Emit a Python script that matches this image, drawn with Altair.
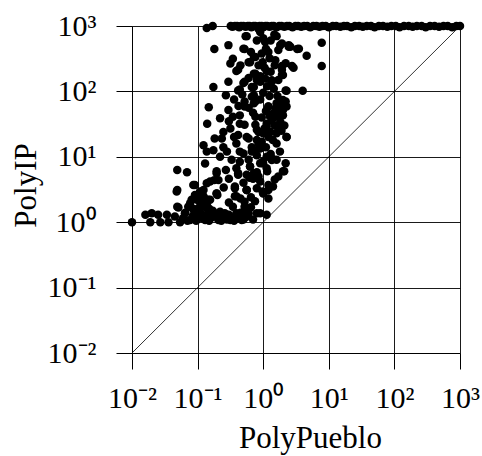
import altair as alt
import pandas as pd

# Points sitting on the PolyIP = 1000 ceiling
top_pueblo = [0.138, 0.17, 0.32, 0.34, 0.37, 0.40, 0.43, 0.46, 0.50, 0.54, 0.58, 0.62,
              0.66, 0.71, 0.76, 0.82, 0.88, 0.95, 1.0, 1.08, 1.15, 1.25, 1.35, 1.45,
              1.6, 1.75, 1.9, 2.1, 2.3, 2.5, 2.8, 3.1, 3.4, 3.8, 4.2, 4.7, 5.2, 5.8,
              6.5, 7.2, 8.0, 9.0, 10, 11.5, 13, 15, 17, 19, 22, 25, 29, 33, 38, 44,
              50, 58, 67, 78, 90, 105, 120, 140, 165, 190, 220, 260, 300, 350, 410,
              480, 560, 650, 760, 880, 1000]
top_ip = [930, 1000, 1000, 970, 1000, 1000, 960, 1000, 1000, 970, 1000, 1000,
          960, 1000, 1000, 970, 1000, 1000, 960, 1000, 1000, 970, 1000, 1000,
          960, 1000, 1000, 970, 1000, 1000, 960, 1000, 1000, 970, 1000, 1000, 960,
          1000, 1000, 970, 1000, 1000, 960, 1000, 1000, 970, 1000, 1000, 960, 1000,
          1000, 970, 1000, 1000, 960, 1000, 1000, 970, 1000, 1000, 960, 1000, 1000,
          970, 1000, 1000, 960, 1000, 1000, 970, 1000, 1000, 960, 1000, 1000]

# Band of points near PolyIP = 1
low_pueblo = [0.01, 0.016, 0.02, 0.019, 0.025, 0.027, 0.034, 0.036, 0.045, 0.051, 0.048,
              0.054, 0.064, 0.072, 0.081, 0.091, 0.086, 0.077, 0.103, 0.116, 0.123,
              0.138, 0.146, 0.13, 0.18, 0.18, 0.195, 0.208, 0.26, 0.316, 0.37, 0.37,
              0.39, 0.47, 0.56, 0.52, 0.6, 0.9, 1.0, 1.2,
              0.06, 0.07, 0.085, 0.095, 0.11, 0.12, 0.14, 0.15, 0.16, 0.17, 0.2,
              0.22, 0.23, 0.25, 0.28, 0.3, 0.34, 0.36, 0.42, 0.45, 0.5, 0.55, 0.7,
              0.1, 0.13, 0.15, 0.09, 0.11, 0.125, 0.14]
low_ip = [1.0, 1.3, 1.37, 1.0, 1.3, 1.0, 1.3, 1.0, 1.22, 1.68, 2.95,
          1.0, 1.37, 1.72, 2.2, 2.6, 3.7, 1.08, 1.22, 1.72, 3.1,
          3.95, 2.2, 1.08, 4.4, 1.37, 2.75, 1.08, 1.37, 1.08, 2.5, 3.5,
          1.37, 1.08, 3.1, 1.72, 1.37, 1.37, 2.75, 3.1,
          1.15, 1.05, 1.25, 1.05, 1.4, 1.15, 1.3, 1.05, 1.5, 1.2, 1.25,
          1.45, 1.05, 1.2, 1.1, 1.3, 1.15, 1.05, 1.2, 1.4, 1.1, 1.2, 1.1,
          1.6, 1.9, 1.6, 1.45, 2.0, 2.4, 1.75]

# Scattered cloud between the two bands
mid_pueblo = [0.54, 0.90, 1.48, 0.295, 0.18, 0.52, 1.07, 1.82, 2.45, 3.3, 4.6, 7.8, 7.8,
              0.345, 0.60, 0.76, 0.39, 0.316, 0.72, 1.93, 2.75, 2.0, 1.07, 1.35, 0.52,
              0.295, 0.174, 0.72, 0.44, 0.27, 2.27, 4.0, 0.67, 0.72, 0.148, 0.14, 0.295,
              0.22, 0.52, 1.20, 1.6, 2.27, 2.0, 1.41, 2.0, 1.82, 0.345, 0.44, 0.76,
              0.316, 0.247, 1.13, 1.28, 1.70, 0.182, 0.234, 0.56, 0.39, 0.80, 1.0,
              2.27, 1.6, 0.123, 0.138, 0.174, 0.247, 0.67, 0.90, 0.50, 0.80, 1.13,
              0.13, 0.22, 0.44, 1.0, 1.35, 0.39, 0.63, 0.195, 0.27, 0.049, 0.069,
              2.09, 0.56, 0.80, 0.415, 0.155, 0.208, 0.90, 1.41, 0.091, 0.049, 0.37,
              0.56, 1.0, 0.109, 0.39, 0.52, 0.098, 0.077, 0.049, 0.109, 0.155, 0.195,
              0.345, 0.52, 0.80, 1.13, 0.195, 0.72, 1.13,
              0.56, 1.6, 2.45, 0.5, 1.2, 0.72, 0.63, 0.98, 1.53, 2.2, 2.9, 1.93, 1.13,
              0.76, 0.415, 1.35, 0.9, 0.5, 0.67, 0.415, 2.2, 0.72, 0.52, 0.76, 1.2,
              1.7, 2.2, 2.0, 0.6, 0.44, 0.76, 1.53, 1.13, 0.52, 0.8, 1.6, 2.27, 0.415,
              0.6, 0.85, 0.44, 0.67, 1.35, 0.98, 2.0, 0.63, 0.415, 0.85, 1.2, 0.56,
              0.98, 3.5, 2.6, 1.93, 1.93]
mid_ip = [700, 810, 740, 510, 445, 445, 570, 510, 480, 445, 350, 555, 245,
          316, 280, 335, 205, 268, 186, 245, 245, 178, 158, 141, 141,
          141, 117, 117, 107, 87, 102, 102, 83, 66, 57, 32, 52,
          39, 59, 59, 66, 59, 74, 46, 43, 34.5, 41, 32, 31,
          27, 24, 32, 24, 27, 19, 19, 20, 16, 18, 23,
          20, 16, 15, 12, 12.6, 14, 14, 13.4, 11.2, 10.6, 10,
          7.9, 10, 8.4, 7.9, 8.9, 6.7, 7.1, 6.0, 6.3, 6.3, 5.8,
          6.0, 5.3, 5.8, 5.3, 4.2, 4.4, 4.2, 3.5, 3.7, 3.1, 3.3,
          3.1, 2.8, 2.95, 2.5, 2.05, 2.2, 1.95, 1.72, 1.72, 2.2, 2.75,
          1.72, 1.45, 1.37, 1.3, 5.6, 5.6, 6.7,
          700, 700, 510, 450, 400, 335, 280, 280, 300, 270, 230, 215, 205,
          186, 215, 148, 141, 134, 117, 103, 103, 87, 70, 70, 59,
          62, 70, 52, 56, 43, 41, 41, 29, 31, 26, 23, 20, 21.5,
          19, 16, 12, 12, 9.5, 8.4, 6, 7.1, 5.6, 5, 3.7, 3.1,
          2.95, 450, 480, 540, 180]

# Extra points in the densest part of the cloud
dense_pueblo = [0.85, 1.0, 1.1, 0.95, 1.25, 0.85, 1.05, 1.3, 0.9, 1.15, 0.8, 1.0, 1.25,
                0.9, 1.1, 0.95, 1.35, 0.7, 1.05, 0.85, 1.2, 0.95, 1.1, 0.75, 1.3, 0.6,
                0.9, 1.15, 0.7, 0.8, 1.2, 0.65, 0.3, 0.25, 0.2, 0.14, 0.17, 0.12, 0.085,
                0.065, 0.33, 0.28, 0.36, 0.3, 0.42, 0.36, 0.48, 0.6, 0.45, 0.65, 0.8,
                1.3, 1.7, 1.5, 1.7, 1.45, 1.65, 1.9, 1.55, 1.75, 1.25, 1.5, 1.9, 2.1,
                1.4, 1.8, 1.6, 2.2, 1.7, 1.5, 0.5, 0.62, 0.3, 0.45, 0.65, 0.75]
dense_ip = [900, 650, 450, 380, 320, 250, 230, 200, 170, 120, 150, 95, 85,
            75, 50, 40, 36, 47, 27, 24, 20, 17, 14, 12.5, 11, 9,
            8, 6, 4.6, 3.3, 2.3, 2.4, 4.6, 3.4, 2.6, 1.6, 1.5, 2.6, 1.6,
            1.4, 9, 12, 20, 35, 60, 75, 90, 160, 250, 400, 600,
            600, 430, 250, 150, 110, 85, 60, 55, 45, 42, 30, 25, 30,
            18, 12, 9, 8, 5, 4.5, 4, 4.8, 2, 2.3, 1.7, 2.1]

diag_vals = [0.01, 1000]
tick_vals = [0.01, 0.1, 1, 10, 100, 1000]

points = pd.DataFrame({
    "PolyPueblo": top_pueblo + low_pueblo + mid_pueblo + dense_pueblo,
    "PolyIP": top_ip + low_ip + mid_ip + dense_ip,
})
diag = pd.DataFrame({"PolyPueblo": diag_vals, "PolyIP": diag_vals})

FONT = "Liberation Serif"
label_expr = ("datum.value < 0.05 ? '10⁻²' : datum.value < 0.5 ? '10⁻¹' : "
              "datum.value < 5 ? '10⁰' : datum.value < 50 ? '10¹' : "
              "datum.value < 500 ? '10²' : '10³'")

xscale = alt.Scale(type="log", domain=[0.01, 1000], nice=False)
yscale = alt.Scale(type="log", domain=[0.01, 1000], nice=False)

xaxis = alt.Axis(values=tick_vals, labelExpr=label_expr, grid=True, gridColor="black",
                 gridWidth=0.9, tickSize=16, tickColor="black", tickWidth=1,
                 domainColor="black", domainWidth=1, labelFont=FONT, labelFontSize=30,
                 labelColor="black", labelBaseline="alphabetic", labelPadding=38,
                 labelOverlap=False, labelFlush=False, title="PolyPueblo",
                 titleFont=FONT, titleFontSize=31, titleFontWeight="normal",
                 titleColor="black", titleX=178, titleY=94, titleBaseline="alphabetic",
                 titleAlign="center")
yaxis = alt.Axis(values=tick_vals, labelExpr=label_expr, grid=True, gridColor="black",
                 gridWidth=0.9, tickSize=16, tickColor="black", tickWidth=1,
                 domainColor="black", domainWidth=1, labelFont=FONT, labelFontSize=30,
                 labelColor="black", labelPadding=20, labelOverlap=False,
                 labelFlush=False, title="PolyIP", titleFont=FONT, titleFontSize=31,
                 titleFontWeight="normal", titleColor="black", titleX=-97, titleY=159,
                 titleAngle=270, titleBaseline="alphabetic", titleAlign="center")

line = alt.Chart(diag).mark_line(color="black", strokeWidth=0.8).encode(
    x=alt.X("PolyPueblo:Q", scale=xscale, axis=xaxis),
    y=alt.Y("PolyIP:Q", scale=yscale, axis=yaxis),
)
dots = alt.Chart(points).mark_circle(color="black", opacity=1, size=72).encode(
    x=alt.X("PolyPueblo:Q", scale=xscale),
    y=alt.Y("PolyIP:Q", scale=yscale),
)

chart = alt.layer(line, dots).properties(
    width=328, height=327,
    autosize=alt.AutoSizeParams(type="none"),
    padding={"left": 132, "top": 26, "right": 22, "bottom": 103},
).configure_view(strokeWidth=0)

chart.save("out.html", embed_options={"renderer": "svg", "actions": False})
